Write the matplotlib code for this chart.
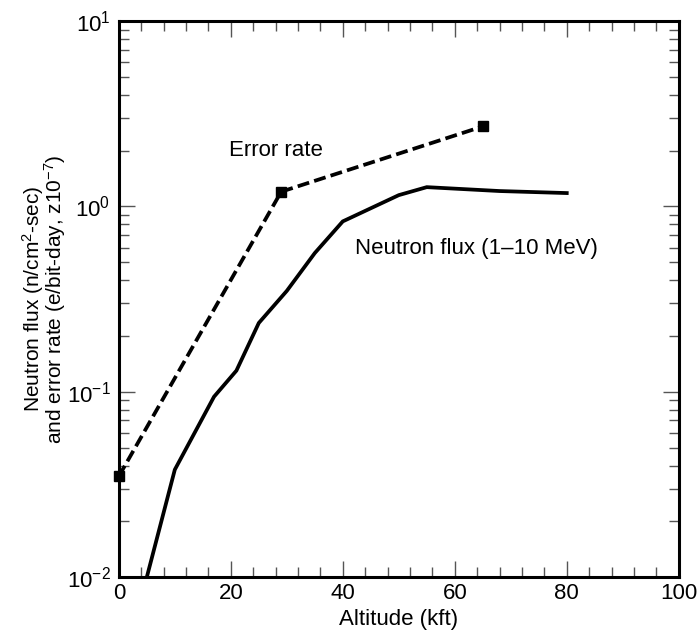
import matplotlib
matplotlib.use("Agg")
from matplotlib import pyplot as plt
from matplotlib.ticker import MultipleLocator, LogLocator
import numpy as np

plt.rcParams['font.family'] = ['Liberation Sans', 'DejaVu Sans']
plt.rcParams['mathtext.fontset'] = 'custom'
plt.rcParams['mathtext.rm'] = 'Liberation Sans'
plt.rcParams['mathtext.it'] = 'Liberation Sans'
plt.rcParams['mathtext.default'] = 'regular'

# values
flux_alt = [5, 10, 17, 21, 25, 30, 35, 40, 50, 55, 68, 80]
flux_val = [0.01, 0.038, 0.094, 0.13, 0.235, 0.35, 0.56, 0.83, 1.15, 1.27, 1.21, 1.18]

err_alt = [0, 29, 65]
err_val = [0.035, 1.2, 2.7]

fig = plt.figure(figsize=(6.99, 6.37), dpi=100)
ax = fig.add_axes([0.170, 0.094, 0.801, 0.873])

ax.plot(flux_alt, flux_val, color='black', lw=2.7, solid_joinstyle='miter')
ax.plot(err_alt, err_val, color='black', lw=2.7, linestyle=(0, (3.2, 1.4)),
        marker='s', markersize=6.5, clip_on=False)

ax.set_yscale('log')
ax.set_xlim(0, 100)
ax.set_ylim(1e-2, 1e1)

ax.xaxis.set_major_locator(MultipleLocator(20))
ax.xaxis.set_minor_locator(MultipleLocator(4))
ax.yaxis.set_major_locator(LogLocator(base=10))
ax.yaxis.set_minor_locator(LogLocator(base=10, subs=np.arange(2, 10)))

ax.tick_params(which='both', direction='in', top=True, right=True,
               labelsize=16, color='#555555', width=1)
ax.tick_params(which='major', length=11.5)
ax.tick_params(which='minor', length=7.5)
ax.tick_params(axis='x', pad=4)
ax.tick_params(axis='y', pad=6)

for s in ax.spines.values():
    s.set_linewidth(2.2)

ax.text(19.6, 2.0, 'Error rate', fontsize=16, ha='left', va='center')
ax.text(42.1, 0.594, 'Neutron flux (1–10 MeV)', fontsize=16, ha='left', va='center')

ax.set_xlabel('Altitude (kft)', fontsize=16, labelpad=4)
ax.set_ylabel('Neutron flux (n/cm$^{2}$-sec)\nand error rate (e/bit-day, z10$^{-7}$)',
              fontsize=15, labelpad=-1, linespacing=0.8)

fig.savefig('out.png', dpi=100)
